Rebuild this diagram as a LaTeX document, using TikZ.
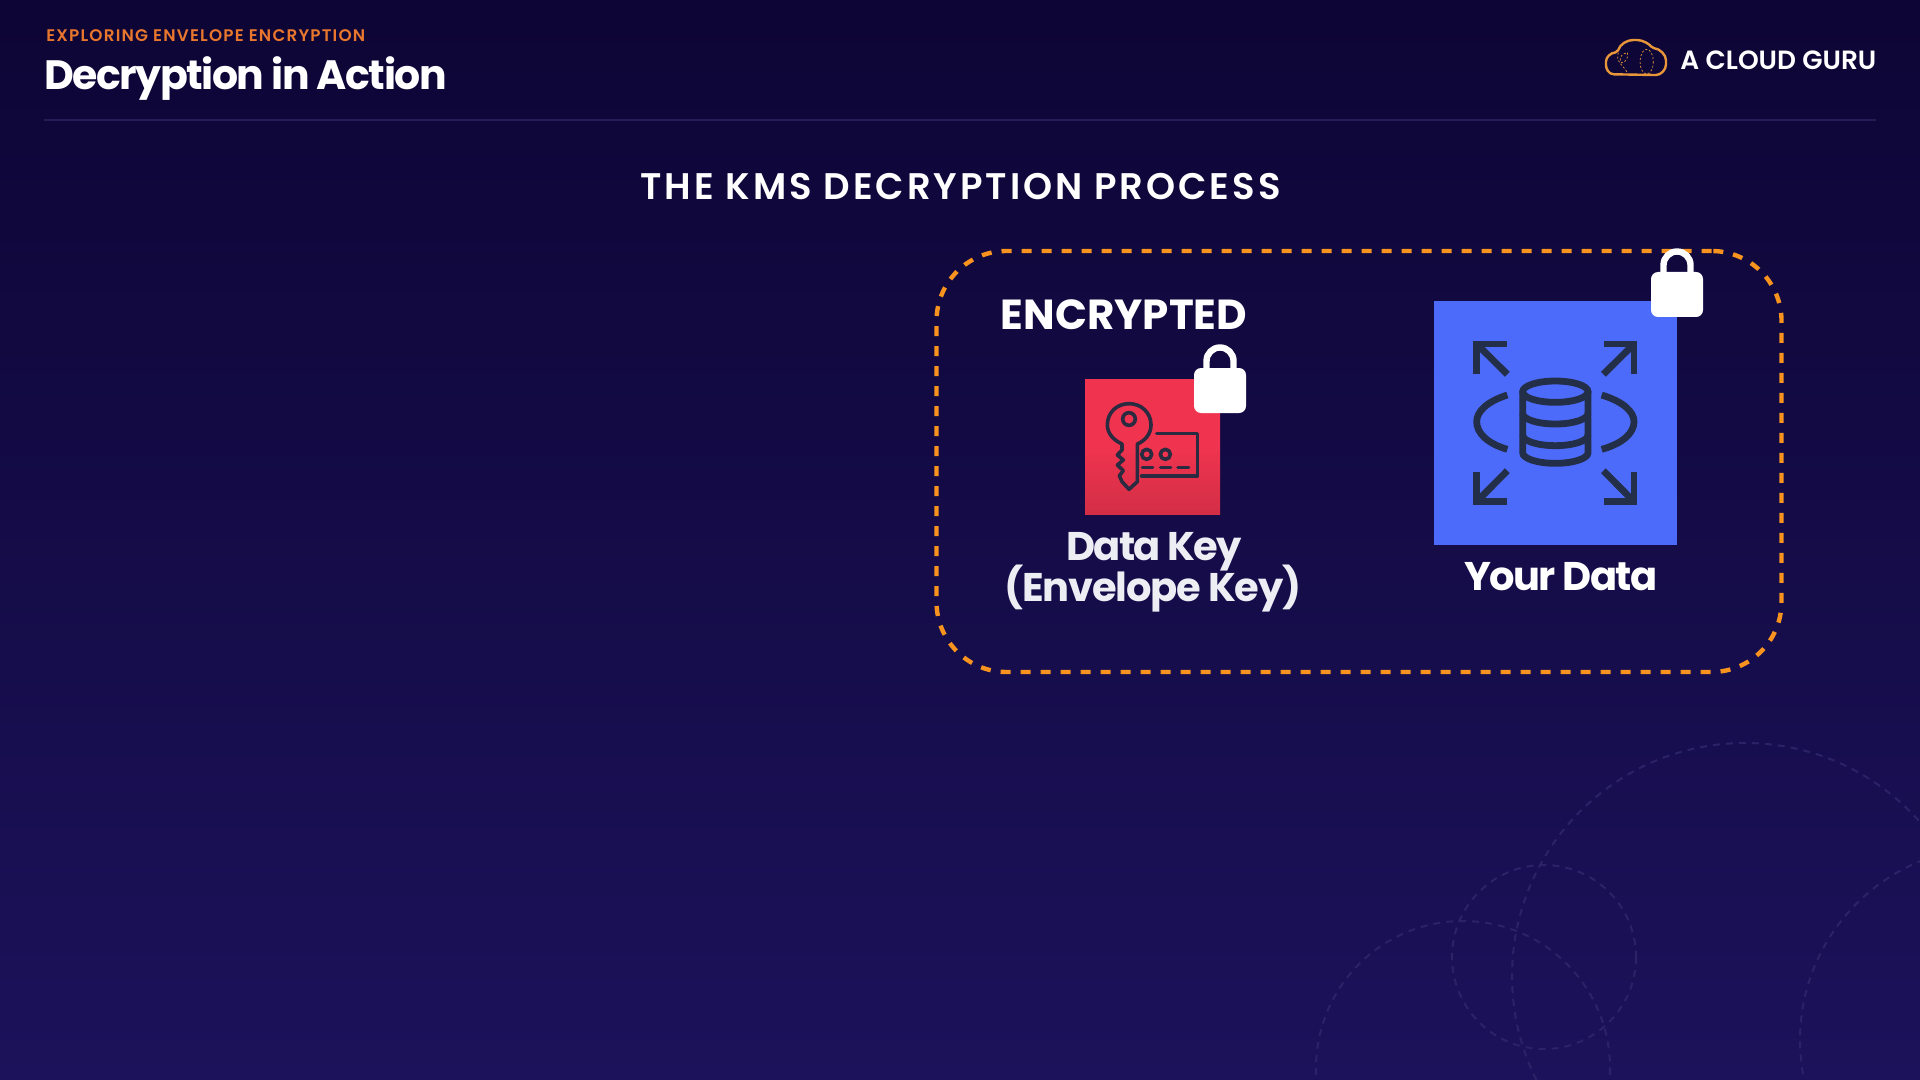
\documentclass[tikz,border=0pt]{standalone}
\usepackage{fontspec}
\setmainfont{Poppins}
\newfontfamily\popmed{Poppins}[UprightFont=* Medium]
\newfontfamily\popsemi{Poppins}[UprightFont=* SemiBold]
\definecolor{bgtop}{HTML}{0D0535}
\definecolor{bgbot}{HTML}{1C125B}
\definecolor{ringc}{HTML}{2B2267}
\definecolor{ruleC}{HTML}{231C57}
\definecolor{orangeT}{HTML}{E8762D}
\definecolor{orangeD}{HTML}{F7931E}
\definecolor{cloudC}{HTML}{E8963A}
\definecolor{redT}{HTML}{F0344F}
\definecolor{redB}{HTML}{D32E46}
\definecolor{blueS}{HTML}{4D6BFA}
\definecolor{iconD}{HTML}{2A2A40}
\definecolor{iconE}{HTML}{232F48}
\definecolor{softW}{HTML}{EDEDF4}
\tikzset{
  ring/.style={draw=ringc,line width=1pt,dash pattern=on 3.5pt off 3pt},
  txt/.style={text=white,inner sep=0pt,font=\bfseries},
  padlock/.pic={
    \fill[white,rounded corners=3.5pt] (-26,0) rectangle (26,45);
    \draw[white,line width=3.2pt] (-13.5,3) -- (-13.5,-7) arc[start angle=180,end angle=360,radius=13.5] -- (13.5,3);
  }
}
\begin{document}
\begin{tikzpicture}[x=0.5pt,y=-0.5pt]
\useasboundingbox (0,0) rectangle (1920,1080);
\shade[top color=bgtop,bottom color=bgbot] (0,0) rectangle (1920,1080);
\begin{scope}
\clip (0,0) rectangle (1920,1080);
\draw[ring] (1745,976) circle [radius=233];
\draw[ring] (1544,957) circle [radius=92];
\draw[ring] (1463,1068) circle [radius=147];
\draw[ring] (1993,1040) circle [radius=193];
\end{scope}
% header
\node[anchor=west,text=orangeT,inner sep=0pt,font=\popsemi\fontsize{8.4}{10}\selectfont\addfontfeatures{LetterSpace=7}] (kicker) at (46,36) {EXPLORING ENVELOPE ENCRYPTION};
\node[txt,anchor=base west,font=\bfseries\fontsize{20.5}{24}\selectfont\addfontfeatures{LetterSpace=-3.7}] (title) at (44,90) {Decryption in Action};
\node[txt,anchor=west,font=\popsemi\fontsize{13.2}{16}\selectfont] (brand) at (1680,60) {A CLOUD GURU};
\coordinate (ruleL) at (44,120);
\coordinate (ruleR) at (1876,120);
\draw[ruleC,line width=1.4pt] (ruleL) -- (ruleR);
% cloud logo
\begin{scope}[shift={(1590,20)},x=0.16667pt,y=-0.16667pt]
\draw[cloudC,line width=1.2pt,rounded corners=1pt] (78,163) .. controls (55,163) and (48,145) .. (48,130) .. controls (48,112) and (62,98) .. (82,97) .. controls (90,72) and (112,60) .. (135,60) .. controls (158,60) and (178,72) .. (186,84) .. controls (210,86) and (228,105) .. (228,127) .. controls (228,150) and (212,165) .. (192,165) -- cycle;
\draw[cloudC,line width=0.35pt,dash pattern=on 1pt off 1pt] (170,125) ellipse [x radius=20,y radius=37];
\draw[cloudC,line width=0.35pt,dash pattern=on 1pt off 1pt] (85,98) .. controls (75,125) and (100,135) .. (112,158);
\draw[cloudC,line width=0.35pt,dash pattern=on 1pt off 1pt] (112,98) .. controls (118,125) and (90,135) .. (92,125) .. controls (85,110) and (100,100) .. (112,98);
\end{scope}
% heading
\node[txt,font=\popsemi\fontsize{18.5}{22}\selectfont\addfontfeatures{LetterSpace=8}] (heading) at (960.5,187) {THE KMS DECRYPTION PROCESS};
% dashed frame
\node[draw=orangeD,line width=2.2pt,dash pattern=on 5pt off 5pt,rounded corners=35pt,minimum width=422.5pt,minimum height=210.5pt,inner sep=0pt] (frame) at (1359,461.5) {};
% encrypted
\node[txt,font=\bfseries\fontsize{21}{24}\selectfont] (enc) at (1124,315) {ENCRYPTED};
% red tile
\shade[top color=redT,bottom color=redB,middle color=redT] (1085,379) rectangle (1220,514);
\begin{scope}[shift={(1060,330)},x=0.16667pt,y=-0.16667pt]
\begin{scope}[iconD,line width=1.8pt,line join=round,line cap=round]
\draw (186,342) .. controls (160,330) and (142,310) .. (142,285) .. controls (142,248) and (170,221) .. (207,221) .. controls (244,221) and (273,248) .. (273,285) .. controls (273,312) and (255,332) .. (232,342) -- (232,455) -- (207,478) -- (186,455) -- (178,437) -- (190,422) -- (172,405) -- (190,390) -- (172,375) -- (186,360) -- cycle;
\draw (207,267) circle [radius=19];
\draw (290,310) -- (412,310) -- (412,438) -- (245,438);
\draw (260,373) circle [radius=15];
\draw (316,373) circle [radius=15];
\draw (247,413) -- (278,413);
\draw (302,413) -- (332,413);
\draw (354,413) -- (386,413);
\end{scope}
\end{scope}
\pic at (1220,368) {padlock};
\node[txt,text=softW,font=\bfseries\fontsize{20}{24}\selectfont\addfontfeatures{LetterSpace=-4.3}] (dk1) at (1154,552) {Data Key};
\node[txt,text=softW,font=\bfseries\fontsize{20}{24}\selectfont\addfontfeatures{LetterSpace=-3.2}] (dk2) at (1153,589) {(Envelope Key)};
% blue tile
\fill[blueS] (1433.5,301) rectangle (1677,544.5);
\begin{scope}[shift={(1420,240)},x=0.16667pt,y=-0.16667pt]
\begin{scope}[iconE,line width=3.4pt,miter limit=10]
\draw (260,312) -- (170,312) -- (170,402);
\draw (170,312) -- (262,403);
\draw (552,312) -- (642,312) -- (642,402);
\draw (642,312) -- (550,403);
\draw (260,785) -- (170,785) -- (170,695);
\draw (170,785) -- (262,692);
\draw (552,785) -- (642,785) -- (642,695);
\draw (642,785) -- (550,692);
\draw (262,465) .. controls (200,485) and (170,515) .. (170,545) .. controls (170,578) and (200,610) .. (262,628);
\draw (545,465) .. controls (610,485) and (642,515) .. (642,545) .. controls (642,578) and (610,610) .. (545,628);
\draw (406,455) ellipse [x radius=98,y radius=32];
\draw (308,455) -- (308,638) arc[start angle=180,end angle=0,x radius=98,y radius=32] -- (504,455);
\draw (308,520) arc[start angle=180,end angle=0,x radius=98,y radius=32];
\draw (308,585) arc[start angle=180,end angle=0,x radius=98,y radius=32];
\end{scope}
\end{scope}
\pic at (1677,272) {padlock};
\node[txt,font=\bfseries\fontsize{20}{24}\selectfont\addfontfeatures{LetterSpace=-4}] (yd) at (1561,577) {Your Data};
\end{tikzpicture}
\end{document}
